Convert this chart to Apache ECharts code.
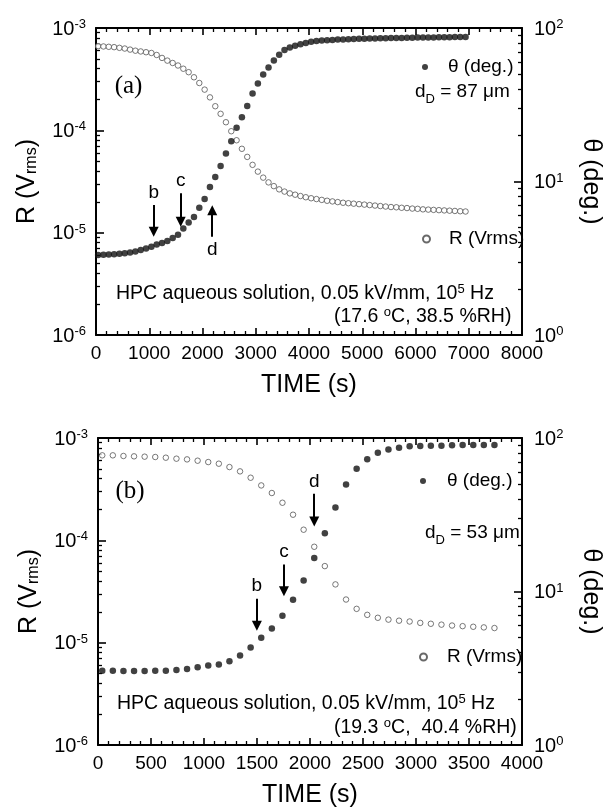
<!DOCTYPE html>
<html><head><meta charset="utf-8">
<script src="https://cdn.jsdelivr.net/npm/echarts@6/dist/echarts.min.js"></script>
<style>html,body{margin:0;padding:0;background:#fff}#c{width:611px;height:809px}</style>
</head><body><div id="c"></div>
<script>
// ---------------- DATA ----------------
const timeA = [40,140,240,340,440,540,640,740,840,940,1040,1140,1240,1340,1440,1540,1640,1740,1840,1940,2040,2140,2240,2340,2440,2540,2640,2740,2840,2940,3040,3140,3240,3340,3440,3540,3640,3740,3840,3940,4040,4140,4240,4340,4440,4540,4640,4740,4840,4940,5040,5140,5240,5340,5440,5540,5640,5740,5840,5940,6040,6140,6240,6340,6440,6540,6640,6740,6840,6940];
const rA = [6.65e-4,6.6e-4,6.55e-4,6.5e-4,6.4e-4,6.3e-4,6.15e-4,6.0e-4,5.9e-4,5.8e-4,
  5.7e-4,5.45e-4,5.1e-4,4.8e-4,4.55e-4,4.3e-4,4.0e-4,3.7e-4,3.3e-4,2.9e-4,
  2.5e-4,2.1e-4,1.72e-4,1.45e-4,1.2e-4,9.8e-5,8.0e-5,6.6e-5,5.5e-5,4.6e-5,
  3.95e-5,3.45e-5,3.1e-5,2.85e-5,2.65e-5,2.52e-5,2.42e-5,2.35e-5,2.28e-5,2.22e-5,
  2.17e-5,2.13e-5,2.09e-5,2.05e-5,2.02e-5,1.99e-5,1.96e-5,1.94e-5,1.92e-5,1.9e-5,
  1.88e-5,1.86e-5,1.84e-5,1.82e-5,1.8e-5,1.78e-5,1.77e-5,1.75e-5,1.74e-5,1.72e-5,
  1.71e-5,1.69e-5,1.68e-5,1.67e-5,1.66e-5,1.65e-5,1.64e-5,1.63e-5,1.62e-5,1.61e-5];
const thetaA = [3.32,3.33,3.34,3.36,3.38,3.41,3.45,3.5,3.58,3.66,
  3.76,3.88,3.98,4.1,4.28,4.5,4.95,5.4,5.88,6.75,
  7.7,9.2,10.7,12.6,15.2,18.3,22.4,26.2,31,37.5,
  43.5,49.8,55.3,61.5,67,71.8,74.5,76.5,78.5,80,
  81.3,82.3,82.8,83.2,83.6,84,84.3,84.6,84.8,85,
  85.2,85.4,85.5,85.7,85.8,86,86.1,86.2,86.3,86.4,
  86.6,86.7,86.8,86.8,86.9,87.1,87.2,87.3,87.4,87.5];

const timeB = [40,140,240,340,440,540,640,740,840,940,1040,1140,1240,1340,1440,1540,1640,1740,1840,1940,2040,2140,2240,2340,2440,2540,2640,2740,2840,2940,3040,3140,3240,3340,3440,3540,3640,3740];
const rB = [6.77e-4,6.77e-4,6.67e-4,6.62e-4,6.57e-4,6.52e-4,6.42e-4,6.28e-4,6.18e-4,6.0e-4,
  5.82e-4,5.61e-4,5.2e-4,4.72e-4,4.09e-4,3.44e-4,2.9e-4,2.33e-4,1.78e-4,1.27e-4,
  8.65e-5,5.6e-5,3.71e-5,2.64e-5,2.14e-5,1.87e-5,1.75e-5,1.68e-5,1.64e-5,1.61e-5,
  1.56e-5,1.53e-5,1.5e-5,1.47e-5,1.45e-5,1.43e-5,1.41e-5,1.39e-5];
const thetaB = [3.05,3.05,3.04,3.04,3.04,3.05,3.05,3.08,3.13,3.21,
  3.29,3.34,3.51,3.83,4.32,4.99,5.74,6.94,8.83,11.8,
  16.5,24.0,35.3,49.7,63.1,72.6,80.2,84.3,86.5,88.3,
  88.7,89.1,89.1,89.6,90.0,90.0,90.0,90.0];

// tick labels
const xTicksA = [0,1000,2000,3000,4000,5000,6000,7000,8000];
const xTicksB = [0,500,1000,1500,2000,2500,3000,3500,4000];
const rExponents = [-6,-5,-4,-3];
const thetaExponents = [0,1,2];

// annotation arrows (data coords: time, R on left axis)
const arrowsA = [
  {label:'b', t:1083, tail:1.86e-5, tip:1.02e-5},
  {label:'c', t:1590, tail:2.43e-5, tip:1.28e-5},
  {label:'d', t:2183, tail:9.1e-6, tip:1.66e-5}
];
const arrowsB = [
  {label:'b', t:1499, tail:2.69e-5, tip:1.46e-5},
  {label:'c', t:1754, tail:5.79e-5, tip:3.18e-5},
  {label:'d', t:2040, tail:2.85e-4, tip:1.53e-4}
];

// ---------------- CHART ----------------
const FONT = "'Liberation Sans', Arial, Helvetica, sans-serif";
const SERIF = "'Liberation Serif', 'Times New Roman', serif";
const BLACK = '#000';
const chart = echarts.init(document.getElementById('c'));

const expRich = () => ({
  b: {fontSize: 20, lineHeight: 20, padding: [8, 0, 6, 0], fontFamily: FONT, color: BLACK},
  s: {fontSize: 13, lineHeight: 13, verticalAlign: 'top', fontFamily: FONT, color: BLACK}
});
const expFmt = v => '{b|10}{s|' + Math.round(Math.log10(v)) + '}';

const frameLine = () => ({show: true, onZero: false, lineStyle: {color: BLACK, width: 2}});
const majorTick = (len) => ({show: true, inside: true, length: len, lineStyle: {color: BLACK, width: 1.6}});
const minorTick = (n) => ({show: true, splitNumber: n, length: 4, lineStyle: {color: BLACK, width: 1.3}});

function xAxes(gi, ticks) {
  const mk = (pos) => ({
    gridIndex: gi, type: 'value', position: pos, min: ticks[0], max: ticks[ticks.length - 1],
    interval: ticks[1] - ticks[0],
    axisLine: frameLine(), axisTick: majorTick(7), minorTick: minorTick(5),
    splitLine: {show: false}, minorSplitLine: {show: false},
    axisLabel: pos === 'bottom'
      ? {show: true, margin: 9, fontSize: 19, fontFamily: FONT, color: BLACK, formatter: v => String(v)}
      : {show: false},
    name: pos === 'bottom' ? 'TIME (s)' : '', nameLocation: 'middle', nameGap: 38,
    nameTextStyle: {fontSize: 25, fontFamily: FONT, color: BLACK}
  });
  return [mk('bottom'), mk('top')];
}
function yAxes(gi) {
  const common = () => ({gridIndex: gi, type: 'log', logBase: 10, splitLine: {show: false}, minorSplitLine: {show: false},
    axisLine: frameLine(), axisTick: majorTick(8), minorTick: minorTick(9)});
  const rMain = Object.assign(common(), {
    position: 'left', min: Math.pow(10, rExponents[0]), max: Math.pow(10, rExponents[rExponents.length - 1]),
    axisLabel: {show: true, margin: 10, formatter: expFmt, rich: expRich()},
    name: '{n|R (V}{sub|rms}{n|)}', nameLocation: 'middle', nameGap: 56,
    nameTextStyle: {rich: {
      n: {fontSize: 25, lineHeight: 26, fontFamily: FONT, color: BLACK},
      sub: {fontSize: 16, lineHeight: 16, verticalAlign: 'bottom', fontFamily: FONT, color: BLACK}
    }}
  });
  const tMain = Object.assign(common(), {
    position: 'right', min: Math.pow(10, thetaExponents[0]), max: Math.pow(10, thetaExponents[thetaExponents.length - 1]),
    axisLabel: {show: true, margin: 12, formatter: expFmt, rich: expRich()},
    name: 'θ (deg.)', nameLocation: 'middle', nameGap: 56, nameRotate: -90,
    nameTextStyle: {fontSize: 25, fontFamily: FONT, color: BLACK}
  });
  return [rMain, tMain];
}

function arrowLines(arrows) {
  return {
    silent: true, animation: false,
    symbol: ['none', 'triangle'], symbolSize: 10,
    lineStyle: {color: BLACK, width: 2, type: 'solid'},
    label: {show: true, position: 'start', formatter: '{b}', distance: 3, fontSize: 19, fontFamily: FONT, color: BLACK},
    emphasis: {disabled: true},
    data: arrows.map(a => [
      {name: a.label, coord: [a.t, a.tail]},
      {name: a.label, coord: [a.t, a.tip]}
    ])
  };
}
function seriesFor(gi, time, r, th, arrows) {
  return [
    {name: 'R (Vrms)', type: 'scatter', xAxisIndex: gi * 2, yAxisIndex: gi * 2,
      data: time.map((t, i) => [t, r[i]]), symbol: 'circle', symbolSize: 5.5,
      itemStyle: {color: '#fff', borderColor: '#444', borderWidth: 0.9}, z: 2,
      markLine: arrowLines(arrows)},
    {name: 'θ (deg.)', type: 'scatter', xAxisIndex: gi * 2, yAxisIndex: gi * 2 + 1,
      data: time.map((t, i) => [t, th[i]]), symbol: 'circle', symbolSize: 6.5,
      itemStyle: {color: '#111'}, z: 3}
  ];
}
function legendAt(name, left, top, size, pad) {
  return {
    data: [{name, icon: 'circle'}], left, top, padding: 0, orient: 'horizontal',
    itemWidth: size, itemHeight: size, selectedMode: false,
    textStyle: {fontSize: 19, lineHeight: 20, fontFamily: FONT, color: BLACK, padding: [0, 0, 0, pad]}
  };
}

const txtRich = () => ({
  n: {fontSize: 19.5, lineHeight: 22, fontFamily: FONT, color: BLACK},
  sup: {fontSize: 13, lineHeight: 13, verticalAlign: 'top', fontFamily: FONT, color: BLACK},
  sub: {fontSize: 13, lineHeight: 13, verticalAlign: 'bottom', fontFamily: FONT, color: BLACK},
  nd: {fontSize: 19, lineHeight: 20, padding: [0, 0, 7, 0], fontFamily: FONT, color: BLACK}
});
function rtext(text, x, y) {
  return {type: 'text', z: 50, style: {text, x, y, rich: txtRich(), align: 'left', textAlign: 'left',
    verticalAlign: 'middle', textVerticalAlign: 'middle'}};
}
function ptext(text, x, y, size, family) {
  return {type: 'text', z: 50, style: {text, x, y, fontSize: size, fontFamily: family, fill: BLACK,
    align: 'center', textAlign: 'center', verticalAlign: 'middle', textVerticalAlign: 'middle'}};
}

chart.setOption({
  animation: false,
  backgroundColor: '#fff',
  grid: [
    {left: 96, top: 28, width: 436, height: 307},
    {left: 98, top: 438, width: 434, height: 308}
  ],
  xAxis: [...xAxes(0, xTicksA), ...xAxes(1, xTicksB)],
  yAxis: [...yAxes(0), ...yAxes(1)],
  legend: [
    legendAt('θ (deg.)', 422, 57, 6, 15),
    legendAt('R (Vrms)', 422, 229, 7, 14),
    legendAt('θ (deg.)', 420, 471, 6, 16),
    legendAt('R (Vrms)', 419, 647, 7, 15)
  ],
  series: [...seriesFor(0, timeA, rA, thetaA, arrowsA), ...seriesFor(1, timeB, rB, thetaB, arrowsB)],
  graphic: [
    ptext('(a)', 128.5, 86, 25, SERIF),
    rtext('{nd|d}{sub|D}{nd| = 87 μm}', 415, 95.5),
    rtext('{n|HPC aqueous solution, 0.05 kV/mm, 10}{sup|5}{n| Hz}', 116, 294),
    rtext('{n|(17.6 }{sup|o}{n|C, 38.5 %RH)}', 334, 317),
    ptext('(b)', 130, 491.5, 25, SERIF),
    rtext('{nd|d}{sub|D}{nd| = 53 μm}', 425, 536.5),
    rtext('{n|HPC aqueous solution, 0.05 kV/mm, 10}{sup|5}{n| Hz}', 117, 704),
    rtext('{n|(19.3 }{sup|o}{n|C,  40.4 %RH)}', 334, 728)
  ]
});
</script>
</body></html>
